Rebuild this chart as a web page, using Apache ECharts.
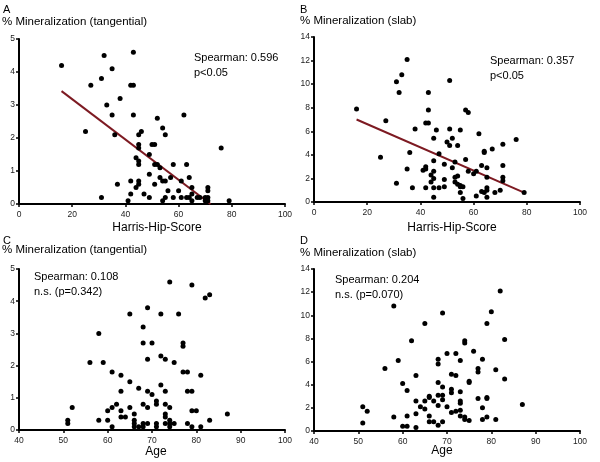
<!DOCTYPE html>
<html><head><meta charset="utf-8">
<script src="https://cdn.jsdelivr.net/npm/echarts@6/dist/echarts.min.js"></script>
<style>html,body{margin:0;padding:0;background:#fff}#c{width:600px;height:462px}</style>
</head><body><div id="c"></div>
<script>
// Panel A: Harris-Hip-Score vs % Mineralization (tangential)
const pointsA = [[16,4.2],[32,4.5],[43,4.6],[35,4.1],[31,3.8],[27,3.6],[42,3.6],[43,3.6],[38,3.2],[33,3.0],[35,2.7],[43,2.7],[52,2.6],[62,2.7],[25,2.2],[36,2.1],[46,2.2],[45,2.1],[54,2.3],[55,2.1],[76,1.7],[45,1.8],[45,1.7],[50,1.8],[51,1.8],[49,1.5],[44,1.4],[45,1.3],[45,1.2],[51,1.2],[52,1.2],[53,1.1],[58,1.2],[63,1.2],[49,0.9],[53,0.8],[54,0.7],[57,0.8],[64,0.8],[61,0.7],[37,0.6],[42,0.7],[45,0.7],[45,0.6],[51,0.6],[55,0.7],[44,0.5],[65,0.5],[71,0.5],[71,0.4],[56,0.4],[60,0.4],[42,0.3],[47,0.3],[65,0.3],[31,0.2],[49,0.2],[55,0.2],[58,0.2],[61,0.2],[63,0.2],[64,0.2],[68,0.2],[70,0.2],[71,0.2],[41,0.1],[54,0.1],[65,0.1],[79,0.1],[70,0.1],[71,0.1],[67,0.2]];
const fitA = [[16,3.42],[72,0]];
// Panel B: Harris-Hip-Score vs % Mineralization (slab)
const pointsB = [[16,7.9],[35,12.1],[33,10.8],[31,10.2],[32,9.3],[51,10.3],[43,9.3],[43,7.8],[57,7.8],[58,7.6],[27,6.9],[42,6.7],[43,6.7],[38,6.2],[46,6.1],[51,6.2],[55,6.1],[62,5.8],[76,5.3],[45,5.4],[52,5.4],[50,5.1],[51,4.8],[54,4.8],[71,4.9],[67,4.5],[64,4.3],[64,4.2],[36,4.2],[47,4.1],[25,3.8],[57,3.6],[45,3.5],[53,3.4],[49,3.2],[63,3.1],[71,3.1],[42,3.0],[42,2.8],[41,2.7],[35,2.8],[52,2.9],[65,2.9],[45,2.6],[58,2.6],[61,2.6],[60,2.4],[44,2.3],[54,2.2],[53,2.1],[65,2.1],[71,2.1],[45,2.0],[49,1.9],[71,1.8],[44,1.7],[53,1.7],[31,1.6],[54,1.5],[55,1.4],[55,1.3],[56,1.3],[37,1.2],[42,1.2],[45,1.2],[47,1.2],[49,1.3],[65,1.2],[65,1.0],[70,1.0],[63,0.9],[64,0.8],[68,0.8],[79,0.8],[55,0.8],[61,0.5],[45,0.4],[65,0.4],[56,0.3]];
const fitB = [[16,7.0],[79,0.8]];
// Panel C: Age vs % Mineralization (tangential)
const pointsC = [[74,4.6],[79,4.5],[82,4.1],[83,4.2],[69,3.8],[65,3.6],[72,3.6],[76,3.6],[68,3.2],[58,3.0],[68,2.7],[70,2.7],[77,2.7],[77,2.6],[72,2.3],[73,2.2],[69,2.2],[75,2.1],[56,2.1],[59,2.1],[61,1.8],[77,1.8],[78,1.8],[63,1.7],[81,1.7],[65,1.5],[72,1.4],[67,1.3],[63,1.2],[69,1.2],[73,1.2],[78,1.2],[79,1.2],[70,1.1],[71,0.9],[71,0.8],[68,0.8],[73,0.8],[62,0.8],[61,0.7],[52,0.7],[65,0.7],[69,0.7],[74,0.7],[60,0.6],[63,0.6],[79,0.6],[80,0.6],[87,0.5],[66,0.5],[73,0.5],[73,0.4],[63,0.4],[64,0.4],[58,0.3],[60,0.3],[66,0.3],[74,0.3],[83,0.3],[51,0.3],[51,0.2],[66,0.2],[68,0.2],[69,0.2],[71,0.2],[73,0.2],[74,0.2],[75,0.2],[78,0.2],[61,0.1],[66,0.1],[67,0.1],[68,0.1],[71,0.1],[74,0.1],[79,0.1],[81,0.1]];
// Panel D: Age vs % Mineralization (slab)
const pointsD = [[82,12.1],[58,10.8],[69,10.2],[80,10.3],[65,9.3],[79,9.3],[62,7.8],[83,7.9],[74,7.8],[74,7.6],[76,6.9],[70,6.7],[72,6.7],[59,6.1],[68,6.2],[68,5.8],[73,6.1],[78,6.2],[56,5.4],[77,5.4],[77,5.1],[81,5.3],[63,4.8],[71,4.9],[72,4.8],[83,4.5],[60,4.1],[68,4.2],[75,4.3],[75,4.2],[69,3.8],[71,3.6],[71,3.3],[61,3.5],[73,3.4],[66,3.0],[66,2.9],[68,3.1],[69,3.1],[79,2.9],[79,2.8],[77,2.8],[87,2.3],[63,2.6],[65,2.6],[67,2.6],[73,2.6],[73,2.4],[69,2.7],[64,2.1],[65,1.9],[68,2.2],[70,2.1],[78,2.0],[51,2.1],[52,1.7],[71,1.6],[72,1.7],[73,1.8],[63,1.5],[58,1.2],[61,1.3],[66,1.3],[73,1.3],[74,1.2],[74,1.0],[75,0.9],[79,1.2],[78,1.0],[81,1.0],[66,0.8],[67,0.8],[69,0.8],[68,0.5],[51,0.7],[60,0.4],[61,0.4],[63,0.3]];

const panelLetters = ['A','B','C','D'];
const yTitles = ['% Mineralization (tangential)','% Mineralization (slab)','% Mineralization (tangential)','% Mineralization (slab)'];
const xTitles = ['Harris-Hip-Score','Harris-Hip-Score','Age','Age'];
const statLine1 = ['Spearman: 0.596','Spearman: 0.357','Spearman: 0.108','Spearman: 0.204'];
const statLine2 = ['p<0.05','p<0.05','n.s. (p=0.342)','n.s. (p=0.070)'];
const xRanges = [[0,100,20],[0,100,20],[40,100,10],[40,100,10]];
const yRanges = [[0,5,1],[0,14,2],[0,5,1],[0,14,2]];

const FONT = '"Liberation Sans", Arial, sans-serif';
const grids = [
  {left:19, top:39, width:266, height:165},
  {left:314, top:37, width:266, height:165},
  {left:19, top:269, width:266, height:161},
  {left:314, top:269, width:266, height:162}
];
const axisCommon = {
  axisLine:{show:true,onZero:false,lineStyle:{color:'#000',width:2}},
  axisTick:{show:true,inside:false,length:3,lineStyle:{color:'#000',width:1.5}},
  splitLine:{show:false}
};
const xAxes = xRanges.map((r,i)=>Object.assign({}, axisCommon, {
  type:'value', gridIndex:i, min:r[0], max:r[1], interval:r[2],
  axisLabel:{fontSize:8.5,color:'#222',margin:6,fontFamily:FONT}
}));
const yAxes = yRanges.map((r,i)=>Object.assign({}, axisCommon, {
  type:'value', gridIndex:i, min:r[0], max:r[1], interval:r[2],
  axisLabel:{fontSize:8.5,color:'#222',margin:4,fontFamily:FONT}
}));
const allPoints = [pointsA,pointsB,pointsC,pointsD];
const series = allPoints.map((p,i)=>({
  type:'scatter', xAxisIndex:i, yAxisIndex:i, data:p, symbolSize:5,
  itemStyle:{color:'#000',opacity:1}, silent:true, z:3
}));
[[fitA,0],[fitB,1]].forEach(([d,i])=>series.push({
  type:'line', xAxisIndex:i, yAxisIndex:i, data:d, showSymbol:false, symbol:'none',
  lineStyle:{color:'#7d1a22',width:2}, silent:true, z:2
}));

const letterPos = [[3,10],[300,10],[3,241],[300,241]];
const yTitlePos = [[2,23],[300,22],[2,251],[300,254]];
const xTitlePos = [[157,228],[452,228],[156,452],[442,451]];
const statPos = [[194,58],[490,61],[34,277],[335,280]];
const graphic = [];
for (let i=0;i<4;i++){
  graphic.push({type:'text',left:letterPos[i][0],top:letterPos[i][1]-6,style:{text:panelLetters[i],font:'11px '+FONT,fill:'#000'}});
  graphic.push({type:'text',left:yTitlePos[i][0],top:yTitlePos[i][1]-7,style:{text:yTitles[i],font:'11.5px '+FONT,fill:'#000'}});
  graphic.push({type:'text',x:xTitlePos[i][0],y:xTitlePos[i][1],style:{text:xTitles[i],font:'12px '+FONT,fill:'#000',textAlign:'center',textVerticalAlign:'middle'}});
  graphic.push({type:'text',x:statPos[i][0],y:statPos[i][1],style:{text:statLine1[i],font:'11px '+FONT,fill:'#000',textAlign:'left',textVerticalAlign:'middle'}});
  graphic.push({type:'text',x:statPos[i][0],y:statPos[i][1]+15,style:{text:statLine2[i],font:'11px '+FONT,fill:'#000',textAlign:'left',textVerticalAlign:'middle'}});
}

const chart = echarts.init(document.getElementById('c'), null, {renderer:'canvas'});
chart.setOption({
  animation:false,
  backgroundColor:'#fff',
  textStyle:{fontFamily:FONT},
  grid:grids,
  xAxis:xAxes,
  yAxis:yAxes,
  series:series,
  graphic:graphic
});
</script></body></html>
